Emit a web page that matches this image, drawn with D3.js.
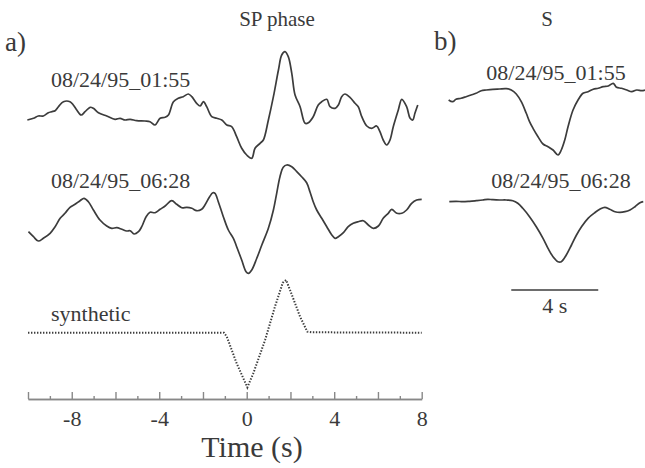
<!DOCTYPE html>
<html>
<head>
<meta charset="utf-8">
<script src="https://cdn.jsdelivr.net/npm/d3@7"></script>
<style>
  body { margin: 0; background: #fff; }
  svg text { font-family: "Liberation Serif", "Times New Roman", serif; fill: #3a3a3a; }
  .trace { fill: none; stroke: #3c3c3c; stroke-width: 1.7; stroke-linejoin: round; }
  .synth { fill: none; stroke: #3c3c3c; stroke-width: 2; stroke-dasharray: 1.4 1.6; }
  .axis path, .axis line { stroke: #888; stroke-width: 1.4; }
</style>
</head>
<body>
<div id="chart"></div>
<script>
var svgWidth = 645;
var svgHeight = 468;

// SP phase, 08/24/95_01:55  [time (s), amplitude]
var sp0155 = [[-10.03,0],[-9.75,0.17],[-9.53,0.4],[-9.3,0.4],[-9.07,0.73],[-8.92,0.83],[-8.76,0.93],
  [-8.61,1.33],[-8.38,1.83],[-8.08,1.83],[-7.93,1.5],[-7.77,1.0],[-7.57,0.5],[-7.39,0.83],[-7.16,1.27],
  [-7.01,1.17],[-6.78,0.73],[-6.4,0.4],[-6.02,0.07],[-5.79,0.17],[-5.56,0],[-5.33,0.07],[-5.03,-0.07],
  [-4.65,-0.1],[-4.42,-0.17],[-4.19,-0.5],[-3.96,0.17],[-3.73,0.27],[-3.58,0.5],[-3.35,1.83],[-3.13,2.17],
  [-2.9,2.33],[-2.67,2.6],[-2.51,2.33],[-2.29,1.67],[-2.13,1.4],[-1.98,1.83],[-1.83,1.33],[-1.6,0.33],
  [-1.37,0.17],[-1.14,0],[-0.91,-0.5],[-0.69,-0.67],[-0.46,-1.67],[-0.23,-2.83],[0,-3.5],[0.23,-3.83],
  [0.38,-2.83],[0.61,-2.33],[0.76,-2.0],[0.99,0],[1.22,2.33],[1.45,5.0],[1.6,6.5],[1.75,6.83],[1.9,6.33],
  [2.06,4.67],[2.21,2.5],[2.44,1.33],[2.67,-0.33],[2.82,-0.27],[3.04,0.33],[3.27,1.5],[3.43,1.83],
  [3.66,2.07],[3.81,1.33],[4.04,1.17],[4.19,1.5],[4.34,2.33],[4.49,2.6],[4.72,2.27],[4.95,1.67],
  [5.1,1.33],[5.26,0.33],[5.49,-0.6],[5.71,-0.83],[5.94,-0.6],[6.09,-1.17],[6.24,-2.0],[6.4,-2.5],
  [6.55,-2.0],[6.7,-0.67],[6.93,1.0],[7.09,2.07],[7.31,1.33],[7.47,0.17],[7.59,0],[7.69,0.67],[7.82,1.5]];

// SP phase, 08/24/95_06:28
var sp0628 = [[-9.98,-1.67],[-9.75,-2.17],[-9.53,-2.6],[-9.3,-2.33],[-8.99,-1.83],[-8.76,-1.17],
  [-8.53,-0.33],[-8.31,0.17],[-8.08,0.77],[-7.85,1.07],[-7.62,1.43],[-7.44,1.67],[-7.24,1.33],[-7.01,0.5],
  [-6.71,-0.5],[-6.4,-1.1],[-6.17,-1.33],[-5.94,-1.27],[-5.71,-1.43],[-5.49,-1.6],[-5.33,-1.57],
  [-5.15,-1.9],[-4.95,-1.67],[-4.8,-1.17],[-4.6,-0.17],[-4.42,0.27],[-4.19,0.23],[-3.96,0.57],[-3.73,0.9],
  [-3.43,1.43],[-3.2,1.07],[-2.97,0.73],[-2.74,0.77],[-2.51,0.67],[-2.29,0.43],[-2.06,0.57],[-1.91,1.0],
  [-1.71,1.77],[-1.55,2.23],[-1.45,2.17],[-1.3,1.33],[-1.07,-0.17],[-0.84,-1.5],[-0.61,-2.33],
  [-0.46,-3.17],[-0.23,-4.5],[-0.03,-5.67],[0.08,-5.83],[0.23,-5.5],[0.46,-4.33],[0.69,-3.0],[0.99,-1.33],
  [1.22,0.5],[1.37,2.17],[1.52,3.83],[1.67,4.77],[1.83,5.0],[2.06,4.83],[2.29,4.33],[2.51,3.83],
  [2.74,3.23],[2.89,2.33],[3.04,1.33],[3.2,0.5],[3.43,-0.33],[3.66,-1.17],[3.89,-2.0],[4.04,-2.33],
  [4.19,-2.17],[4.42,-1.77],[4.64,-1.17],[4.87,-0.83],[5.1,-0.67],[5.33,-0.57],[5.56,-1.0],[5.79,-1.33],
  [6.02,-1.1],[6.24,-0.33],[6.47,0.17],[6.63,0.57],[6.86,0.17],[7.09,0.17],[7.31,0.5],[7.54,1.17],
  [7.77,1.5],[8.0,1.57]];

// synthetic SP
var spSynth = [[-10,0],[-1.04,0],[-0.91,-0.4],[-0.46,-3.07],[0.03,-5.47],[0.3,-4.07],[0.84,-0.73],
  [1.29,2.6],[1.65,5.0],[1.8,5.27],[1.98,4.27],[2.44,1.6],[2.77,0.1],[2.97,0.04],[8,0]];

// S phase, 08/24/95_01:55
var s0155 = [[-5.03,-1.0],[-4.85,-1.17],[-4.69,-0.93],[-4.46,-0.83],[-4.23,-0.67],[-4.0,-0.5],
  [-3.77,-0.33],[-3.53,-0.07],[-3.3,0],[-3.0,0.07],[-2.69,0.1],[-2.38,0.13],[-2.15,0],[-1.92,-0.4],
  [-1.69,-1.17],[-1.46,-2.33],[-1.31,-3.17],[-1.15,-3.83],[-0.92,-4.67],[-0.69,-5.4],[-0.46,-5.67],
  [-0.23,-6.0],[0,-6.5],[0.15,-6.0],[0.31,-5.0],[0.46,-3.67],[0.69,-2.0],[0.92,-1.0],[1.15,-0.33],
  [1.38,-0.17],[1.62,0.07],[1.85,0.17],[2.08,0.33],[2.31,0.4],[2.54,0.67],[2.69,0.27],[2.92,0.17],
  [3.16,0],[3.39,-0.17],[3.62,0],[3.85,-0.07],[4.0,0]];

// S phase, 08/24/95_06:28
var s0628 = [[-5.0,-0.17],[-4.69,-0.13],[-4.38,-0.17],[-4.07,-0.13],[-3.77,-0.07],[-3.46,0],
  [-3.23,0.07],[-3.0,0.03],[-2.69,0],[-2.38,0],[-2.08,-0.07],[-1.85,-0.33],[-1.62,-0.83],[-1.31,-1.67],
  [-1.0,-2.67],[-0.69,-3.83],[-0.46,-4.83],[-0.23,-5.67],[0,-6.17],[0.15,-6.17],[0.38,-5.5],[0.62,-4.5],
  [0.85,-3.5],[1.08,-2.67],[1.38,-1.83],[1.69,-1.27],[1.92,-0.93],[2.15,-0.73],[2.38,-0.93],[2.62,-1.17],
  [2.85,-1.23],[3.08,-1.17],[3.31,-1.0],[3.54,-0.67],[3.77,-0.27],[3.92,-0.17]];

var labelTicks = [-8, -4, 0, 4, 8];
var majorTicks = [-10, -8, -6, -4, -2, 0, 2, 4, 6, 8];
var minorTicks = [-9, -7, -5, -3, -1, 1, 3, 5, 7];
var scaleBarSec = 4;

var svg = d3.select("#chart")
    .append("svg")
    .attr("width", svgWidth)
    .attr("height", svgHeight);

// Time scales for the two panels (same seconds-per-pixel)
var xLeft = d3.scaleLinear().domain([-10, 8]).range([28, 421.7]);
var xRight = d3.scaleLinear().domain([-5, 4]).range([449.3, 645]);

// amplitude scale, shared; each trace gets shifted to its own baseline
var amp = d3.scaleLinear().domain([-1, 1]).range([10, -10]);

function drawTrace(data, xScale, baseY, cls, curve) {
    var line = d3.line()
        .x(d => xScale(d[0]))
        .y(d => amp(d[1]))
        .curve(curve);
    svg.append("g")
        .attr("transform", `translate(0, ${baseY})`)
        .append("path")
        .datum(data)
        .attr("class", cls)
        .attr("d", line);
}

drawTrace(sp0155, xLeft, 120, "trace", d3.curveCatmullRom);
drawTrace(sp0628, xLeft, 215, "trace", d3.curveCatmullRom);
drawTrace(spSynth, xLeft, 332.7, "synth", d3.curveLinear);
drawTrace(s0155, xRight, 90, "trace", d3.curveCatmullRom);
drawTrace(s0628, xRight, 200, "trace", d3.curveCatmullRom);

// time axis, ticks pointing up
var axisY = 399;
var majorAxis = d3.axisBottom(xLeft)
    .tickValues(majorTicks)
    .tickSize(-7)
    .tickSizeOuter(0)
    .tickPadding(11)
    .tickFormat(d => labelTicks.includes(d) ? String(d) : "");

var minorAxis = d3.axisBottom(xLeft)
    .tickValues(minorTicks)
    .tickSize(-3)
    .tickSizeOuter(0)
    .tickFormat("");

svg.append("g")
    .attr("class", "axis")
    .attr("transform", `translate(0, ${axisY})`)
    .call(minorAxis);

var gx = svg.append("g")
    .attr("class", "axis")
    .attr("transform", `translate(0, ${axisY})`)
    .call(majorAxis);

gx.selectAll("text")
    .style("font-size", "22px")
    .style("font-family", "'Liberation Serif', 'Times New Roman', serif")
    .attr("fill", "#3a3a3a");

svg.append("text")
    .attr("x", 252)
    .attr("y", 457)
    .attr("text-anchor", "middle")
    .style("font-size", "30px")
    .text("Time (s)");

// panel titles and letters
svg.append("text").attr("x", 277).attr("y", 26).attr("text-anchor", "middle")
    .style("font-size", "21px").text("SP phase");
svg.append("text").attr("x", 547).attr("y", 26).attr("text-anchor", "middle")
    .style("font-size", "21px").text("S");
svg.append("text").attr("x", 5).attr("y", 51)
    .style("font-size", "27px").text("a)");
svg.append("text").attr("x", 434).attr("y", 50)
    .style("font-size", "27px").text("b)");

// trace labels
svg.append("text").attr("x", 51).attr("y", 87).style("font-size", "22px").text("08/24/95_01:55");
svg.append("text").attr("x", 51).attr("y", 188).style("font-size", "22px").text("08/24/95_06:28");
svg.append("text").attr("x", 51).attr("y", 321).style("font-size", "22px").text("synthetic");
svg.append("text").attr("x", 556).attr("y", 80).attr("text-anchor", "middle")
    .style("font-size", "22px").text("08/24/95_01:55");
svg.append("text").attr("x", 561).attr("y", 188).attr("text-anchor", "middle")
    .style("font-size", "22px").text("08/24/95_06:28");

// 4 s scale bar under the S traces
var barStart = -2.15;
svg.append("line")
    .attr("x1", xRight(barStart))
    .attr("x2", xRight(barStart + scaleBarSec))
    .attr("y1", 290)
    .attr("y2", 290)
    .attr("stroke", "#3c3c3c")
    .attr("stroke-width", 1.3);

svg.append("text")
    .attr("x", xRight(barStart + scaleBarSec / 2))
    .attr("y", 313)
    .attr("text-anchor", "middle")
    .style("font-size", "22px")
    .text(scaleBarSec + " s");
</script>
</body>
</html>
